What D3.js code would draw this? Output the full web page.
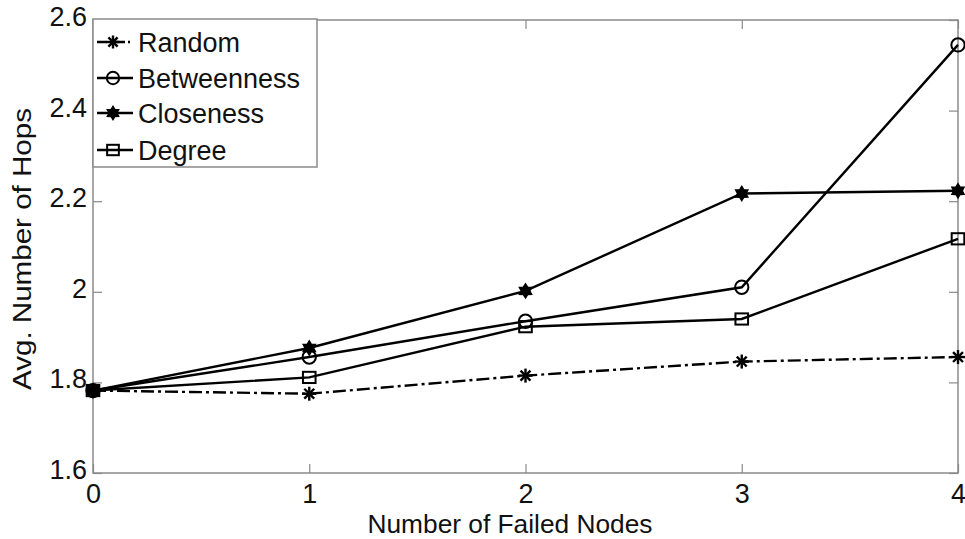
<!DOCTYPE html>
<html><head><meta charset="utf-8">
<script src="https://cdn.jsdelivr.net/npm/d3@7"></script>
<style>body{margin:0;background:#fff}svg{display:block}text{font-family:"Liberation Sans",Arial,sans-serif}</style>
</head><body><svg id="c" width="965" height="539"></svg>
<script>
const xValues = [0, 1, 2, 3, 4];
const seriesNames = ["Random", "Betweenness", "Closeness", "Degree"];
const randomVals = [1.782, 1.775, 1.815, 1.846, 1.856];
const betweennessVals = [1.782, 1.856, 1.935, 2.01, 2.545];
const closenessVals = [1.782, 1.876, 2.002, 2.217, 2.223];
const degreeVals = [1.782, 1.811, 1.923, 1.94, 2.117];
const xTicks = [0, 1, 2, 3, 4];
const yTicks = [1.6, 1.8, 2.0, 2.2, 2.4, 2.6];
const yTickLabels = ["1.6", "1.8", "2", "2.2", "2.4", "2.6"];

const svg = d3.select("#c");
const L = 93, R = 958, T = 20, B = 473;
const x = d3.scaleLinear().domain([0, 4]).range([L, R]);
const y = d3.scaleLinear().domain([1.6, 2.6]).range([B, T]);

const axisColor = "#8a8a8a";
svg.append("rect").attr("x", L).attr("y", T).attr("width", R - L).attr("height", B - T)
  .attr("fill", "none").attr("stroke", axisColor).attr("stroke-width", 1.5);

const xa = svg.append("g").attr("transform", `translate(0,${B})`)
  .call(d3.axisBottom(x).tickValues(xTicks).tickFormat(d3.format("d")).tickSizeInner(-9).tickSizeOuter(0).tickPadding(11));
const ya = svg.append("g").attr("transform", `translate(${L},0)`)
  .call(d3.axisLeft(y).tickValues(yTicks).tickFormat((d, i) => yTickLabels[i]).tickSizeInner(-9).tickSizeOuter(0).tickPadding(6));
svg.append("g").attr("transform", `translate(0,${T})`)
  .call(d3.axisTop(x).tickValues(xTicks).tickSizeInner(-9).tickSizeOuter(0).tickFormat(""));
svg.append("g").attr("transform", `translate(${R},0)`)
  .call(d3.axisRight(y).tickValues(yTicks).tickSizeInner(-9).tickSizeOuter(0).tickFormat(""));
svg.selectAll(".domain").remove();
svg.selectAll(".tick line").attr("stroke", axisColor).attr("stroke-width", 1.2);
svg.selectAll(".tick text").attr("font-size", 27).attr("fill", "#111");
xa.selectAll(".tick text").attr("dy", "0.71em");
ya.selectAll(".tick text").attr("dy", "0.2em");

svg.append("text").attr("x", 510).attr("y", 533).attr("text-anchor", "middle")
  .attr("font-size", 25).attr("fill", "#111")
  .attr("textLength", 285).attr("lengthAdjust", "spacingAndGlyphs").text("Number of Failed Nodes");
svg.append("text").attr("transform", `translate(31,249) rotate(-90)`).attr("text-anchor", "middle")
  .attr("font-size", 26).attr("fill", "#111")
  .attr("textLength", 282).attr("lengthAdjust", "spacingAndGlyphs").text("Avg. Number of Hops");

const series = [
  { name: seriesNames[0], vals: randomVals, dash: "13,4,3,4", marker: "asterisk" },
  { name: seriesNames[1], vals: betweennessVals, dash: null, marker: "circle" },
  { name: seriesNames[2], vals: closenessVals, dash: null, marker: "hexagram" },
  { name: seriesNames[3], vals: degreeVals, dash: null, marker: "square" }
];

const line = d3.line().x((d, i) => x(xValues[i])).y(d => y(d));

function drawMarker(g, type, cx, cy, s) {
  const m = g.append("g").attr("transform", `translate(${cx},${cy})`);
  if (type === "circle") {
    m.append("circle").attr("r", s * 0.95).attr("fill", "none").attr("stroke", "#000").attr("stroke-width", 2);
  } else if (type === "square") {
    m.append("rect").attr("x", -s * 0.9).attr("y", -s * 0.8).attr("width", s * 1.8).attr("height", s * 1.6)
      .attr("fill", "none").attr("stroke", "#000").attr("stroke-width", 2);
  } else if (type === "asterisk") {
    for (let a = 0; a < 4; a++) {
      const ang = a * Math.PI / 4;
      m.append("line").attr("x1", -Math.cos(ang) * s).attr("y1", -Math.sin(ang) * s)
        .attr("x2", Math.cos(ang) * s).attr("y2", Math.sin(ang) * s).attr("stroke", "#000").attr("stroke-width", 2.4);
    }
  } else if (type === "hexagram") {
    const pts = [];
    for (let k = 0; k < 12; k++) {
      const r = k % 2 === 0 ? s : s * 0.6;
      const ang = -Math.PI / 2 + k * Math.PI / 6;
      pts.push([Math.cos(ang) * r, Math.sin(ang) * r]);
    }
    m.append("path").attr("d", "M" + pts.join("L") + "Z").attr("fill", "#000").attr("stroke", "#000").attr("stroke-width", 1.5);
  }
}

series.forEach(sr => {
  svg.append("path").datum(sr.vals).attr("d", line).attr("fill", "none").attr("stroke", "#000")
    .attr("stroke-width", 2.4).attr("stroke-dasharray", sr.dash);
});
series.forEach(sr => {
  const g = svg.append("g");
  sr.vals.forEach((v, i) => drawMarker(g, sr.marker, x(xValues[i]), y(v), 7));
});

const lg = svg.append("g");
lg.append("rect").attr("x", L).attr("y", T - 1).attr("width", 224).attr("height", 148)
  .attr("fill", "#fff").attr("stroke", axisColor).attr("stroke-width", 1.5);
const legendY = [42, 78, 113, 150];
series.forEach((sr, i) => {
  const ly = legendY[i];
  lg.append("line").attr("x1", 97).attr("x2", 133).attr("y1", ly).attr("y2", ly).attr("stroke", "#000")
    .attr("stroke-width", 2.4).attr("stroke-dasharray", sr.dash ? "10,3,2,3" : null);
  drawMarker(lg, sr.marker, 113, ly, 6.5);
  lg.append("text").attr("x", 138).attr("y", ly + 10).attr("font-size", 27).attr("fill", "#111").text(sr.name);
});
</script></body></html>
